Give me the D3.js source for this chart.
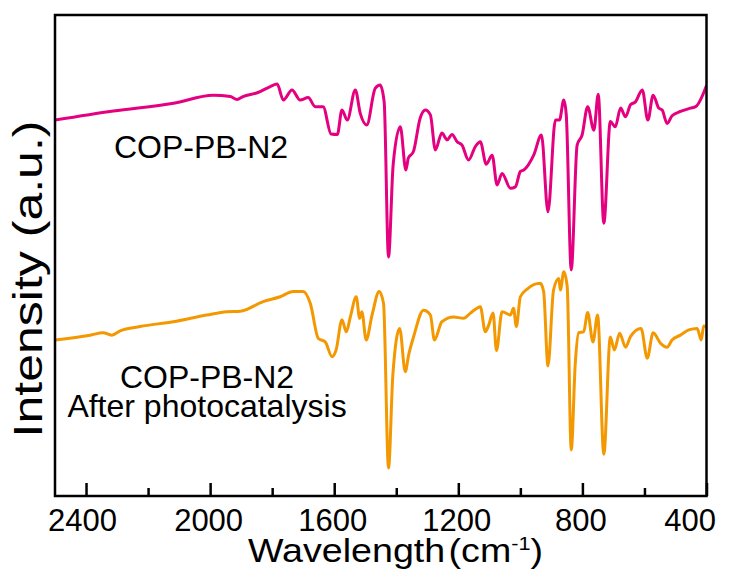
<!DOCTYPE html>
<html>
<head>
<meta charset="utf-8">
<script src="https://cdn.jsdelivr.net/npm/d3@7/dist/d3.min.js"></script>
<style>
  html, body { margin: 0; padding: 0; background: #fff; }
  svg { display: block; }
  text { font-family: "Liberation Sans", Arial, sans-serif; fill: #000; }
</style>
</head>
<body>
<svg id="chart" width="732" height="574"></svg>
<script>
// ---- Data ----
const majorTicks = [2400, 2000, 1600, 1200, 800, 400];
const minorTicks = [2200, 1800, 1400, 1000, 600];

const pristineWn = [2500,2312,2118,1990,1935,1913,1894,1848,1806,1784,1764,1736,1710,1684,1661,1636,1610,1590,1575,1558,1532,1516,1495,1468,1452,1439,1425,1410,1387,1369,1361,1345,1323,1306,1290,1274,1253,1236,1220,1204,1188,1167,1145,1129,1110,1091,1075,1059,1032,1016,1000,989,957,932,911,887,874,860,852,836,817,801,783,763,749,731,710,694,677,661,645,629,607,589,572,554,543,527,511,484,452,435,400];
const pristineI  = [78.1,80.0,81.6,83.3,83.0,82.4,83.0,83.8,85.1,85.6,82.3,84.4,82.3,82.8,80.9,80.9,75.2,75.1,80.2,78.1,84.4,79.5,77.1,84.7,85.4,81.9,49.6,68.8,76.7,67.7,70.2,71.5,78.5,80.2,79.2,71.9,75.4,74.0,75.1,73.6,72.9,69.8,72.6,73.6,68.9,70.8,64.6,67.0,63.9,64.2,67.4,67.7,70.8,75.0,59.0,78.1,78.1,82.3,79.2,46.9,72.9,75.0,80.9,76.0,83.5,56.6,77.8,76.7,80.6,78.8,81.3,81.9,84.4,78.1,83.3,80.6,80.2,77.4,79.0,79.9,80.6,80.9,85.3];

const afterWn = [2500,2387,2345,2317,2290,2226,2119,2011,1946,1903,1829,1774,1732,1700,1677,1651,1629,1607,1594,1575,1561,1548,1529,1518,1511,1497,1478,1455,1441,1425,1411,1389,1371,1360,1344,1312,1290,1277,1253,1215,1183,1161,1140,1129,1113,1102,1088,1077,1059,1032,1022,1013,1000,978,936,925,911,893,876,871,860,849,836,823,812,796,783,766,751,731,710,697,680,661,645,611,591,572,548,527,511,484,457,430,417,409,400];
const afterI  = [32.3,33.3,33.8,33.3,34.2,35.1,36.1,37.5,38.2,38.3,40.3,41.3,42.4,42.4,39.9,32.6,31.9,28.8,30.2,36.5,34.0,37.1,41.3,36.8,38.2,32.3,37.5,42.4,39.9,5.6,25.0,34.7,25.7,29.2,33.0,38.5,37.5,32.3,36.1,37.1,36.8,37.9,38.9,39.2,34.0,35.4,37.9,30.1,38.2,37.5,38.9,35.1,41.3,42.9,44.1,42.4,26.9,42.7,45.1,42.7,46.5,43.4,9.4,27.4,33.8,34.0,38.0,31.9,37.5,8.5,32.9,30.2,33.7,30.8,33.0,34.7,28.5,33.8,31.6,30.8,32.3,33.3,34.4,34.7,32.3,35.2,35.0];

const seriesNames = ["COP-PB-N2", "COP-PB-N2", "After photocatalysis"];
const xTitle = "Wavelength";
const yTitle = "Intensity (a.u.)";

// ---- Layout ----
const svg = d3.select("#chart");
const pL = 55, pR = 706.5, pT = 15, pB = 496;
const x = d3.scaleLinear().domain([2500, 400]).range([pL, pR]);
const y = d3.scaleLinear().domain([0, 100]).range([495, 15]);

const toPts = (wn, iv) => wn.map((w, i) => [w, iv[i]]);
const line = d3.line().x(d => x(d[0])).y(d => y(d[1])).curve(d3.curveMonotoneX);

svg.append("clipPath").attr("id", "clip").append("rect")
  .attr("x", pL).attr("y", pT).attr("width", pR - pL).attr("height", pB - pT);

const g = svg.append("g").attr("clip-path", "url(#clip)");
g.append("path").datum(toPts(pristineWn, pristineI))
  .attr("d", line).attr("fill", "none").attr("stroke", "#e4007f")
  .attr("stroke-width", 3).attr("stroke-linejoin", "round");
g.append("path").datum(toPts(afterWn, afterI))
  .attr("d", line).attr("fill", "none").attr("stroke", "#f39800")
  .attr("stroke-width", 3).attr("stroke-linejoin", "round");

// Frame
svg.append("rect").attr("x", pL).attr("y", pT)
  .attr("width", pR - pL).attr("height", pB - pT)
  .attr("fill", "none").attr("stroke", "#000").attr("stroke-width", 2.5);

// Bottom axis with inward ticks
const axisMajor = d3.axisBottom(x).tickValues(majorTicks).tickSize(-13).tickFormat(d3.format("d"));
const ax = svg.append("g").attr("transform", `translate(0,${pB})`).call(axisMajor);
ax.select(".domain").remove();
ax.selectAll(".tick line").attr("stroke", "#000").attr("stroke-width", 2.5);
ax.selectAll(".tick text")
  .attr("y", 0).attr("dy", null)
  .attr("transform", "translate(0,35)")
  .style("font-size", "31px")
  .style("font-family", "'Liberation Sans', Arial, sans-serif")
  .attr("fill", "#000")
  .attr("text-anchor", d => d === 400 ? "end" : "middle")
  .attr("dx", d => d === 400 ? 9 : (d === 2400 ? -4 : -2));

const axisMinor = d3.axisBottom(x).tickValues(minorTicks).tickSize(-8).tickFormat("");
const axm = svg.append("g").attr("transform", `translate(0,${pB})`).call(axisMinor);
axm.select(".domain").remove();
axm.selectAll(".tick line").attr("stroke", "#000").attr("stroke-width", 2.5);

// X title
const xt = svg.append("text").attr("x", 248).attr("y", 562)
  .attr("textLength", 295).attr("lengthAdjust", "spacingAndGlyphs")
  .style("font-size", "33px");
xt.append("tspan").text(xTitle);
xt.append("tspan").attr("dx", 3).text("(cm");
xt.append("tspan").attr("dy", -12).style("font-size", "19px").text("-1");
xt.append("tspan").attr("dy", 12).text(")");

// Y title
svg.append("text").attr("transform", "translate(42,279) rotate(-90)")
  .attr("text-anchor", "middle")
  .attr("textLength", 317).attr("lengthAdjust", "spacingAndGlyphs")
  .style("font-size", "40px").text(yTitle);

// Series labels
svg.append("text").attr("x", 201).attr("y", 158).attr("text-anchor", "middle")
  .style("font-size", "32px").text(seriesNames[0]);
svg.append("text").attr("x", 207).attr("y", 388).attr("text-anchor", "middle")
  .style("font-size", "32px").text(seriesNames[1]);
svg.append("text").attr("x", 207).attr("y", 417).attr("text-anchor", "middle")
  .style("font-size", "32px").text(seriesNames[2]);
</script>
</body>
</html>
